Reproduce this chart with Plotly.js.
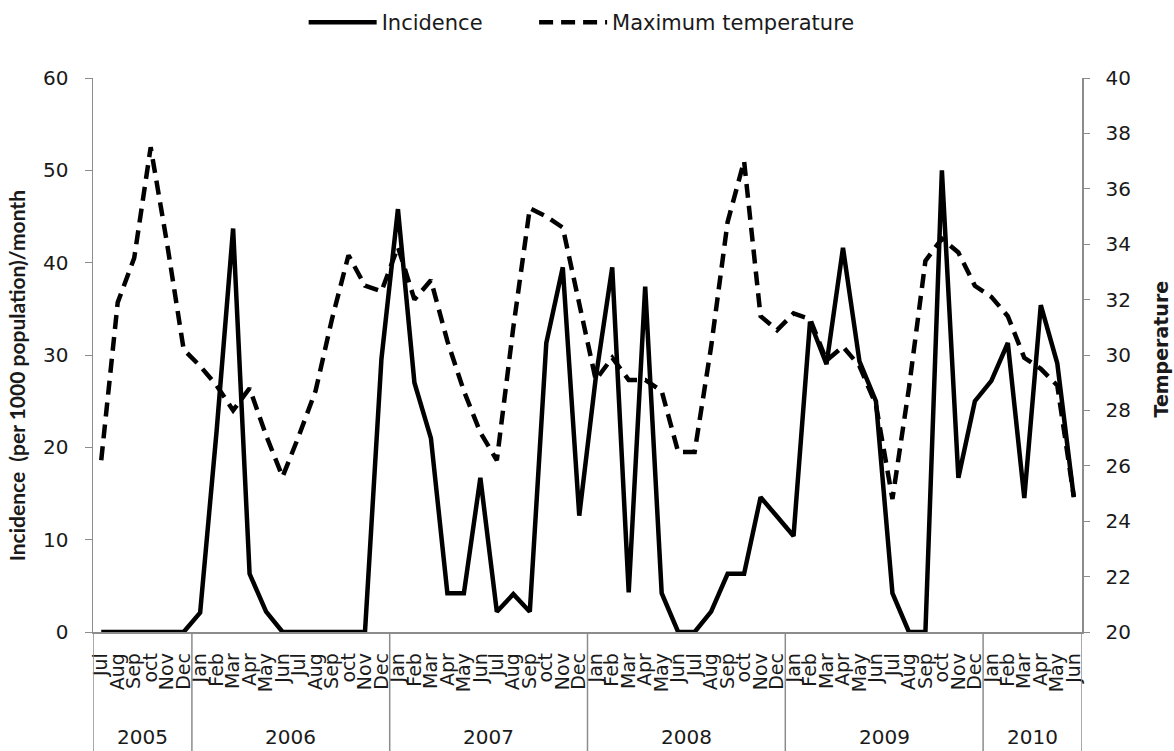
<!DOCTYPE html>
<html>
<head>
<meta charset="utf-8">
<script src="https://cdn.plot.ly/plotly-3.0.1.min.js"></script>
<style>html,body{margin:0;padding:0;background:#fff;}#chart{width:1174px;height:751px;}</style>
</head>
<body>
<div id="chart"></div>
<script>
var years = ['2005','2005','2005','2005','2005','2005',
  '2006','2006','2006','2006','2006','2006','2006','2006','2006','2006','2006','2006',
  '2007','2007','2007','2007','2007','2007','2007','2007','2007','2007','2007','2007',
  '2008','2008','2008','2008','2008','2008','2008','2008','2008','2008','2008','2008',
  '2009','2009','2009','2009','2009','2009','2009','2009','2009','2009','2009','2009',
  '2010','2010','2010','2010','2010','2010'];
var months = ['Jul','Aug','Sep','oct','Nov','Dec',
  'Jan','Feb','Mar','Apr','May','Jun','Jul','Aug','Sep','oct','Nov','Dec',
  'Jan','Feb','Mar','Apr','May','Jun','Jul','Aug','Sep','oct','Nov','Dec',
  'Jan','Feb','Mar','Apr','May','Jun','Jul','Aug','Sep','oct','Nov','Dec',
  'Jan','Feb','Mar','Apr','May','Jun','Jul','Aug','Sep','oct','Nov','Dec',
  'Jan','Feb','Mar','Apr','May','Jun'];
var incidence = [0,0,0,0,0,0,
  2.1,21.8,43.7,6.3,2.2,0,0,0,0,0,0,29.6,
  45.8,27,21,4.2,4.2,16.7,2.2,4.1,2.2,31.3,39.5,12.6,
  27.5,39.5,4.3,37.4,4.2,0,0,2.2,6.3,6.3,14.6,12.5,
  10.4,33.6,29,41.6,29.3,25,4.2,0,0,50,16.7,25,
  27.2,31.3,14.5,35.4,29.1,14.6];
var temperature = [26.2,31.9,33.5,37.5,34,30.2,
  29.6,28.9,28,28.8,27.1,25.6,27.1,28.7,31.3,33.6,32.5,32.3,
  33.9,32,32.7,30.5,28.7,27.2,26.2,31,35.3,35,34.6,31.9,
  29.1,29.9,29.1,29.1,28.7,26.5,26.5,30.3,34.8,37,31.4,30.9,
  31.5,31.3,29.8,30.3,29.6,28.2,24.8,28.8,33.4,34.2,33.7,32.5,
  32.1,31.4,29.9,29.5,28.9,24.9];
var leftTitle = 'Incidence  (per 1000 population)/month';
var rightTitle = 'Temperature';

// positions along the category axis (one slot per month)
var idx = months.map(function(_, i){ return i; });

// year groups derived from the years array
var groups = [];
years.forEach(function(y, i){
  if (!groups.length || groups[groups.length-1].name !== y) groups.push({name:y, start:i, end:i});
  else groups[groups.length-1].end = i;
});

var wide = '"DejaVu Sans", Verdana, sans-serif';
var narrow = 'Lato, "Liberation Sans", sans-serif';
var ink = '#1a1a1a';
var gray = '#8c8c8c';
var shapes = [];
var annotations = [];
groups.forEach(function(g, k){
  if (k === 0) shapes.push({type:'line', xref:'x', yref:'paper', x0:g.start-0.5, x1:g.start-0.5, y0:0, y1:-0.215, line:{color:gray, width:1.5}});
  shapes.push({type:'line', xref:'x', yref:'paper', x0:g.end+0.5, x1:g.end+0.5, y0:0, y1:-0.215, line:{color:gray, width:1.5}});
  annotations.push({xref:'x', yref:'paper', x:(g.start+g.end)/2, y:-0.19, yanchor:'middle', showarrow:false,
    text:g.name, font:{size:20, family:wide, color:ink}});
});
// axis titles
annotations.push({xref:'paper', yref:'paper', x:-0.077, y:0.463, xanchor:'center', yanchor:'middle',
  textangle:-90, showarrow:false, text:'<b>' + leftTitle + '</b>', font:{size:21, family:narrow, color:ink}});
annotations.push({xref:'paper', yref:'paper', x:1.0795, y:0.511, xanchor:'center', yanchor:'middle',
  textangle:-90, showarrow:false, text:'<b>' + rightTitle + '</b>', font:{size:19, family:wide, color:ink}});

var traces = [
  {x:idx, y:incidence, type:'scatter', mode:'lines', name:'Incidence', legend:'legend',
   line:{color:'#000', width:4.5, dash:'solid'}, yaxis:'y'},
  {x:idx, y:temperature, type:'scatter', mode:'lines', name:'Maximum temperature', legend:'legend2',
   line:{color:'#000', width:4.5, dash:'14px,8px'}, yaxis:'y2'}
];
var legendBase = {orientation:'h', xanchor:'left', y:1.1, yanchor:'middle',
  font:{size:21, family:wide, color:ink}, itemwidth:68, bgcolor:'rgba(0,0,0,0)'};
var layout = {
  width:1174, height:751,
  margin:{l:93, r:92, t:78, b:119, autoexpand:false},
  paper_bgcolor:'#fff', plot_bgcolor:'#fff',
  font:{family:wide, color:ink, size:18},
  showlegend:true,
  legend:Object.assign({}, legendBase, {x:0.213}),
  legend2:Object.assign({}, legendBase, {x:0.446}),
  xaxis:{range:[-0.5, months.length-0.5], tickmode:'array', tickvals:idx, ticktext:months,
         showgrid:false, showline:true, linecolor:gray, linewidth:1.5,
         tickangle:-90, tickfont:{size:19, family:wide, color:ink}, ticklabelstandoff:12,
         ticks:'', zeroline:false, automargin:false},
  yaxis:{range:[0,60], dtick:10, showgrid:false, zeroline:false, showline:true,
         linecolor:gray, linewidth:1.5, ticks:'outside', ticklen:7, tickcolor:gray,
         ticklabelstandoff:12,
         tickfont:{size:20, family:wide, color:ink}, automargin:false},
  yaxis2:{range:[20,40], dtick:2, overlaying:'y', side:'right', showgrid:false, zeroline:false,
          showline:true, linecolor:gray, linewidth:1.5, ticks:'outside', ticklen:6, tickcolor:gray,
          ticklabelstandoff:12,
          tickfont:{size:20, family:wide, color:ink}, automargin:false},
  shapes:shapes,
  annotations:annotations
};
Plotly.newPlot('chart', traces, layout, {displayModeBar:false, staticPlot:true});
</script>
</body>
</html>
